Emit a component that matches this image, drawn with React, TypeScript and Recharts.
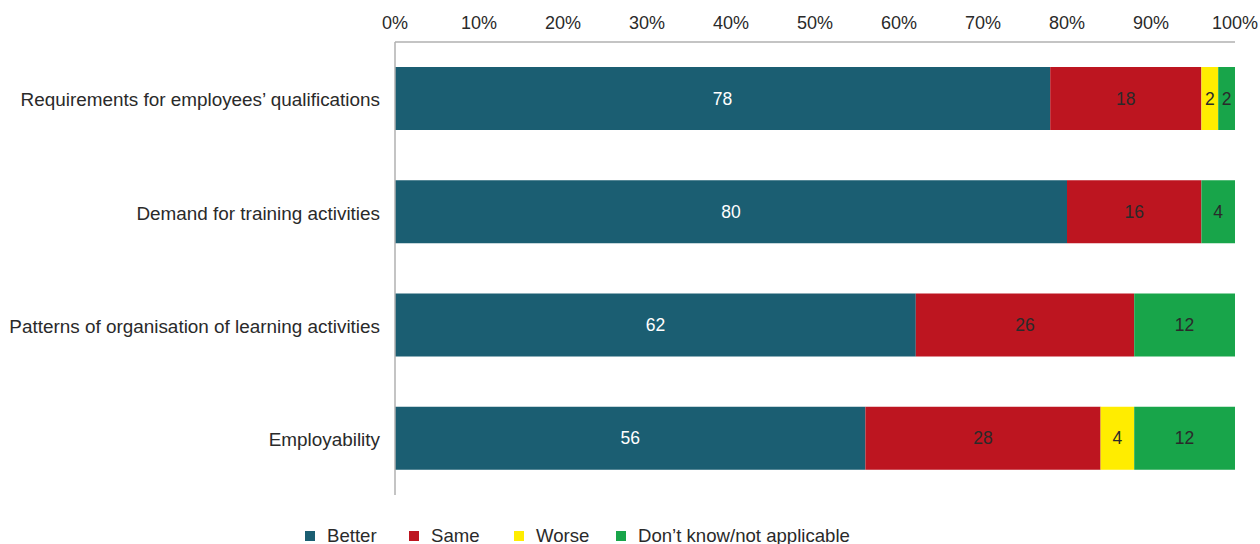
import { BarChart, Bar, XAxis, YAxis, LabelList, Legend } from 'recharts';

const categories = [
  'Requirements for employees\u2019 qualifications',
  'Demand for training activities',
  'Patterns of organisation of learning activities',
  'Employability',
];
const better = [78, 80, 62, 56];
const same = [18, 16, 26, 28];
const worse = [2, 0, 0, 4];
const dontKnow = [2, 4, 12, 12];
const xTicks = [0, 10, 20, 30, 40, 50, 60, 70, 80, 90, 100];

const series = [
  { key: 'better', name: 'Better', color: '#1b5e72', text: '#ffffff' },
  { key: 'same', name: 'Same', color: '#bd1520', text: '#2a2a2a' },
  { key: 'worse', name: 'Worse', color: '#ffed00', text: '#2a2a2a' },
  { key: 'dontKnow', name: 'Don\u2019t know/not applicable', color: '#18a54a', text: '#2a2a2a' },
];

const data = categories.map((name, i) => ({
  name,
  better: better[i],
  same: same[i],
  worse: worse[i],
  dontKnow: dontKnow[i],
}));

const font = 'Liberation Sans, Arial, sans-serif';

// legend drawn by hand so the spacing matches the original
function LegendRow() {
  const lefts = [305, 409, 514, 616];
  return (
    <div style={{ position: 'relative', height: 20, fontFamily: font, fontSize: 18.6, color: '#2a2a2a' }}>
      {series.map((s, i) => (
        <div key={s.key} style={{ position: 'absolute', left: lefts[i], top: 2, display: 'flex', alignItems: 'center', lineHeight: '20px' }}>
          <span style={{ width: 10, height: 10, background: s.color, display: 'inline-block', marginRight: 12 }} />
          <span>{s.name}</span>
        </div>
      ))}
    </div>
  );
}

export default function App() {
  return (
    <div style={{ position: 'absolute', left: 0, top: 0, width: 1260, height: 544, background: '#fff' }}>
      <BarChart
        width={1260}
        height={544}
        data={data}
        layout="vertical"
        margin={{ top: 1, right: 25, bottom: 29, left: 0 }}
        barCategoryGap="22%"
      >
        <XAxis
          type="number"
          orientation="top"
          domain={[0, 100]}
          ticks={xTicks}
          tickFormatter={(v) => `${v}%`}
          height={41}
          tickLine={false}
          tickSize={0}
          tickMargin={13}
          axisLine={{ stroke: '#b0b0b0', strokeWidth: 1.5 }}
          tick={{ fontSize: 18, fill: '#2a2a2a', fontFamily: font }}
          interval={0}
        />
        <YAxis
          type="category"
          dataKey="name"
          width={395}
          tickLine={false}
          tickSize={0}
          tickMargin={15}
          axisLine={{ stroke: '#b0b0b0', strokeWidth: 1.5 }}
          tick={{ fontSize: 18.9, fill: '#2a2a2a', fontFamily: font, dy: 1 }}
        />
        <Legend
          verticalAlign="bottom"
          align="left"
          wrapperStyle={{ left: 0, bottom: 0, width: 1260 }}
          content={() => <LegendRow />}
        />
        {series.map((s) => (
          <Bar key={s.key} dataKey={s.key} name={s.name} stackId="a" fill={s.color} isAnimationActive={false}>
            <LabelList
              dataKey={s.key}
              position="center"
              formatter={(v: number) => (v ? String(v) : '')}
              style={{ fill: s.text, fontSize: 17.5, fontFamily: font }}
            />
          </Bar>
        ))}
      </BarChart>
    </div>
  );
}
